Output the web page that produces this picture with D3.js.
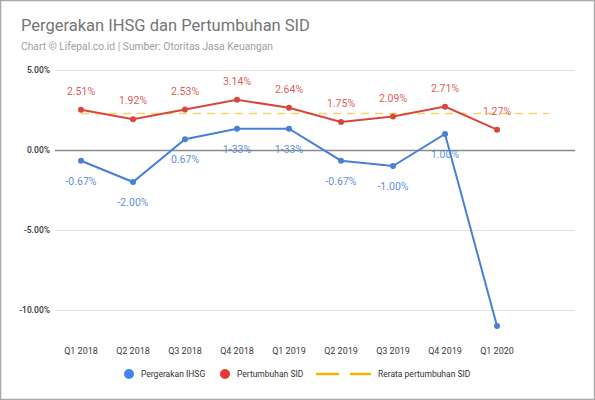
<!DOCTYPE html>
<html>
<head>
<meta charset="utf-8">
<script src="https://cdn.jsdelivr.net/npm/d3@7"></script>
<style>
  html, body { margin: 0; padding: 0; background: #fff; }
  svg { display: block; font-family: Roboto, "Noto Sans", sans-serif; }
</style>
</head>
<body>
<div class="canvas"></div>
<script>
// categories (the last one is blank, only the average line reaches it)
const quarters = ["Q1 2018", "Q2 2018", "Q3 2018", "Q4 2018", "Q1 2019",
  "Q2 2019", "Q3 2019", "Q4 2019", "Q1 2020", ""];
const ihsg = [-0.67, -2.0, 0.67, 1.33, 1.33, -0.67, -1.0, 1.0, -11.0];
const ihsgLabels = ["-0.67%", "-2.00%", "0.67%", "1-33%", "1-33%", "-0.67%", "-1.00%", "1.00%", ""];
const sid = [2.51, 1.92, 2.53, 3.14, 2.64, 1.75, 2.09, 2.71, 1.27];
const sidLabels = ["2.51%", "1.92%", "2.53%", "3.14%", "2.64%", "1.75%", "2.09%", "2.71%", "1.27%"];
const sidAvg = [2.28, 2.28, 2.28, 2.28, 2.28, 2.28, 2.28, 2.28, 2.28, 2.28];
const yTicks = [5, 0, -5, -10];
const legendNames = ["Pergerakan IHSG", "Pertumbuhan SID", "Rerata pertumbuhan SID"];

const blue = "#4a7fd6";
const red = "#d9463b";
const yellow = "#f4b400";

const W = 595, H = 400;
const svg = d3.select(".canvas").append("svg").attr("width", W).attr("height", H);

svg.append("rect").attr("x", 0.5).attr("y", 0.5).attr("width", W - 1).attr("height", H - 1)
  .attr("fill", "#fff").attr("stroke", "#a8a8a8").attr("stroke-width", 1.5);

svg.append("text").attr("x", 21).attr("y", 31).attr("font-size", 16.5)
  .attr("fill", "#757575").text("Pergerakan IHSG dan Pertumbuhan SID");
svg.append("text").attr("x", 21).attr("y", 50).attr("font-size", 10.3)
  .attr("fill", "#a0a0a0").text("Chart \u00a9 Lifepal.co.id | Sumber: Otoritas Jasa Keuangan");

const x = d3.scaleBand().domain(quarters).range([55, 575]);
const cx = (i) => x(quarters[i]) + x.bandwidth() / 2;
const y = d3.scaleLinear().domain([-10, 5]).range([310, 70]);

// gridlines + y labels
const yAxis = d3.axisLeft(y).tickValues(yTicks).tickSize(-(575 - 55))
  .tickFormat((d) => d.toFixed(2) + "%");
const gy = svg.append("g").attr("transform", "translate(55,0)").call(yAxis);
gy.select(".domain").remove();
gy.selectAll(".tick line").attr("stroke", (d) => d === 0 ? "#8a8a8a" : "#e2e2e2")
  .attr("stroke-width", (d) => d === 0 ? 1.3 : 1);
gy.selectAll(".tick text").attr("x", -5).attr("font-size", 8.5).attr("font-weight", 500)
  .attr("fill", "#333").attr("font-family", "Roboto, sans-serif");

// x labels
const xAxis = d3.axisBottom(x).tickSize(0);
const gx = svg.append("g").attr("transform", "translate(0,345)").call(xAxis);
gx.select(".domain").remove();
gx.selectAll(".tick text").attr("font-size", 9).attr("font-weight", 400)
  .attr("fill", "#3a3a3a").attr("font-family", "Roboto, sans-serif");

// average line
svg.append("path").datum(sidAvg)
  .attr("d", d3.line().x((d, i) => cx(i)).y((d) => y(d)))
  .attr("fill", "none").attr("stroke", yellow).attr("stroke-opacity", 0.6)
  .attr("stroke-width", 1.5).attr("stroke-dasharray", "8,6");

function series(values, color) {
  svg.append("path").datum(values)
    .attr("d", d3.line().x((d, i) => cx(i)).y((d) => y(d)))
    .attr("fill", "none").attr("stroke", color).attr("stroke-width", 2);
  svg.append("g").selectAll("circle").data(values).join("circle")
    .attr("cx", (d, i) => cx(i)).attr("cy", (d) => y(d)).attr("r", 3).attr("fill", color);
}
series(sid, red);
series(ihsg, blue);

svg.append("g").selectAll("text").data(sid).join("text")
  .attr("x", (d, i) => cx(i)).attr("y", (d) => y(d) - 15)
  .attr("text-anchor", "middle").attr("font-size", 10.5).attr("fill", red).attr("fill-opacity", 0.9)
  .text((d, i) => sidLabels[i]);
svg.append("g").selectAll("text").data(ihsg).join("text")
  .attr("x", (d, i) => cx(i)).attr("y", (d) => y(d) + 24)
  .attr("text-anchor", "middle").attr("font-size", 10.5).attr("fill", blue).attr("fill-opacity", 0.9)
  .text((d, i) => ihsgLabels[i]);

// legend
const lg = svg.append("g").attr("font-size", 8.5).attr("fill", "#333");
lg.append("circle").attr("cx", 129).attr("cy", 374).attr("r", 5).attr("fill", "#4285f4");
lg.append("text").attr("x", 141).attr("y", 377).text(legendNames[0]);
lg.append("circle").attr("cx", 225).attr("cy", 374).attr("r", 5).attr("fill", "#e53935");
lg.append("text").attr("x", 237).attr("y", 377).text(legendNames[1]);
lg.append("line").attr("x1", 316).attr("x2", 339).attr("y1", 374).attr("y2", 374)
  .attr("stroke", yellow).attr("stroke-width", 2.5);
lg.append("line").attr("x1", 350).attr("x2", 371).attr("y1", 374).attr("y2", 374)
  .attr("stroke", yellow).attr("stroke-width", 2.5);
lg.append("text").attr("x", 378).attr("y", 377).text(legendNames[2]);
</script>
</body>
</html>
